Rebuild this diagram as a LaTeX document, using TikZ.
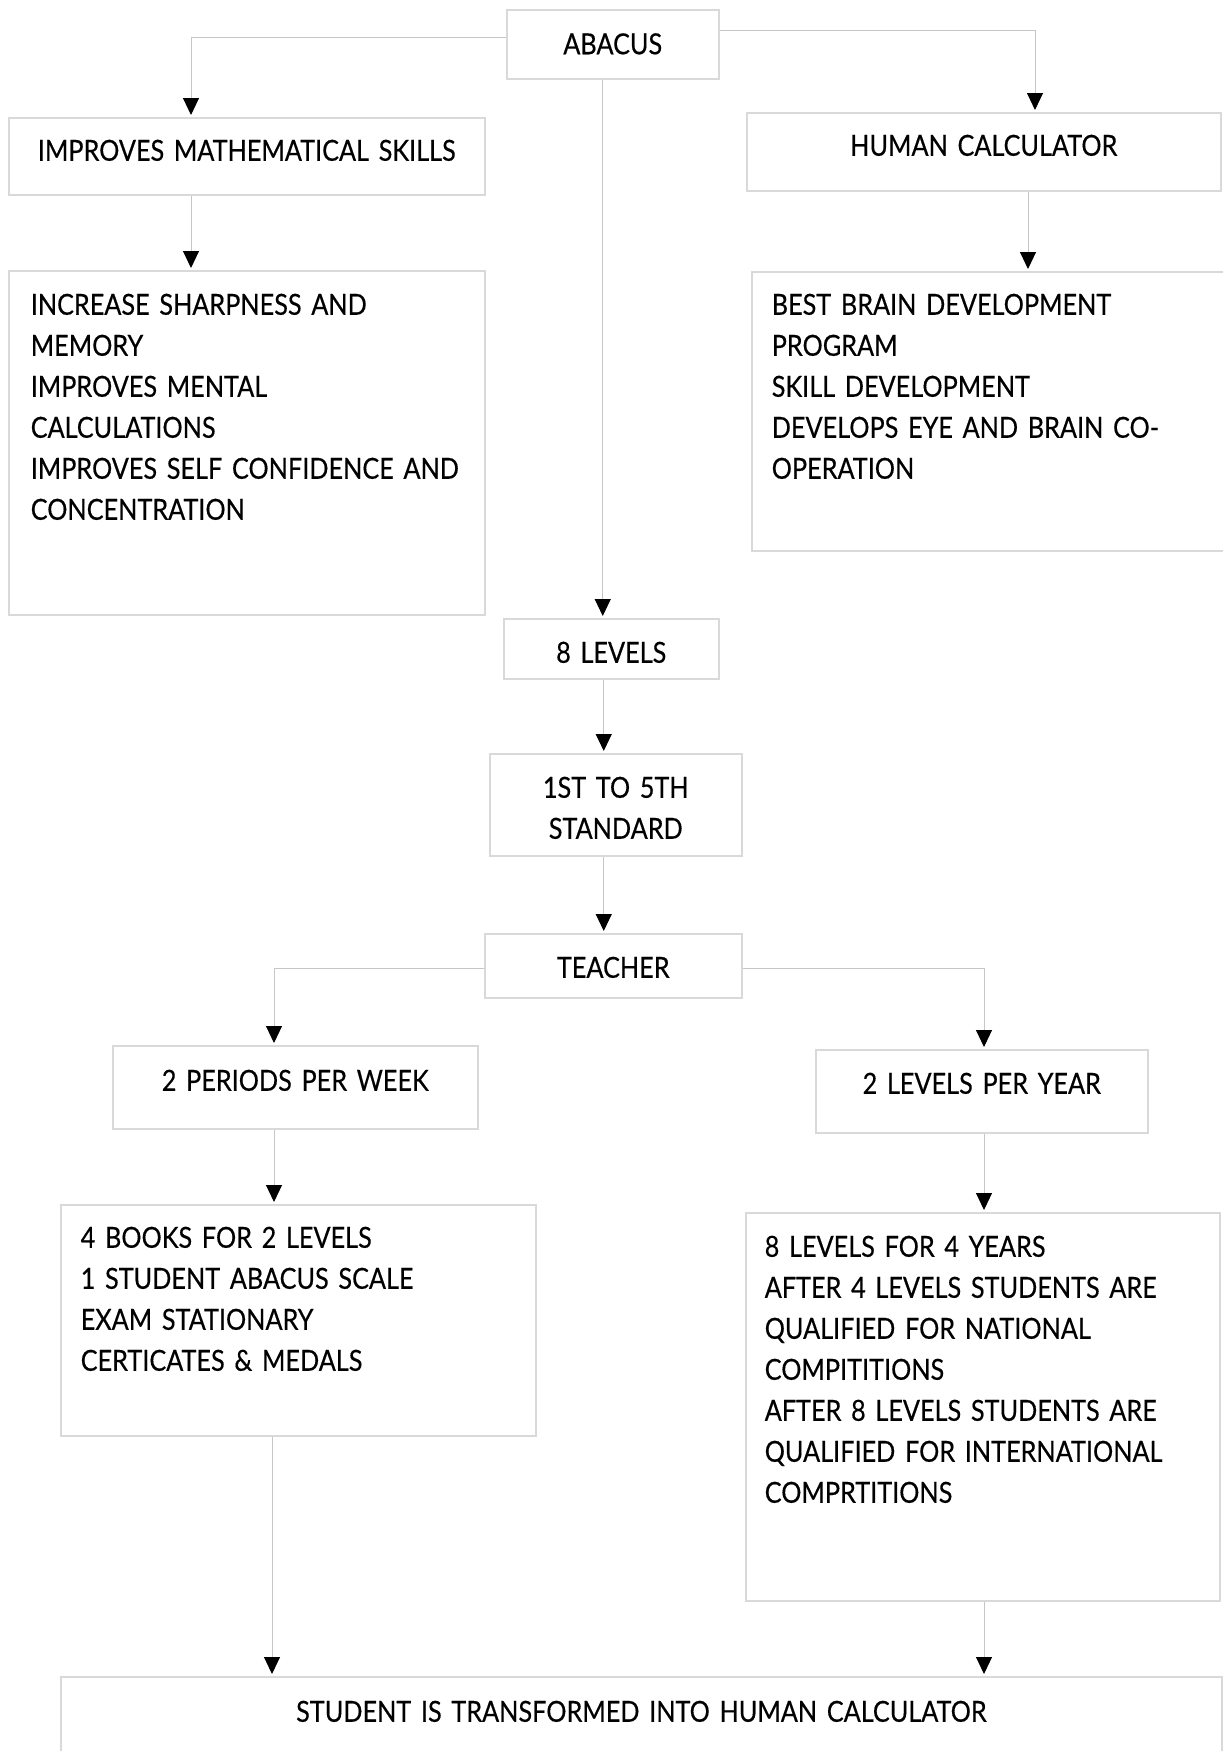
\documentclass[tikz,border=0pt]{standalone}
\usepackage{fontspec}
\setmainfont[FakeStretch=0.87, WordSpace=0.6, FakeBold=0.4]{Lato}
\usetikzlibrary{arrows.meta}
\hyphenpenalty=10000

\tikzset{
  box/.style={rectangle, draw=gray!30, line width=1.5pt, anchor=north west, inner ysep=0pt, font=\fontsize{29}{41}\selectfont},
  midbox/.style={box, inner xsep=0pt, align=center},
  listbox/.style={box, inner xsep=20pt, align=left},
  link/.style={draw=gray!45, line width=1pt, -{Triangle[length=17pt,width=16pt,color=black]}, shorten >=2pt}
}

\begin{document}
\begin{tikzpicture}[x=1pt, y=-1pt]
    \clip (0,0) rectangle (1223,1751);

    \node [midbox, text width=212pt, text height=44.5pt, text depth=24.5pt] (abacus) at (506,9) {ABACUS};
    \node [midbox, text width=476pt, text height=43pt, text depth=34pt] (maths) at (8,117) {IMPROVES MATHEMATICAL SKILLS};
    \node [midbox, text width=474pt, text height=43pt, text depth=35pt] (human) at (746,112) {HUMAN CALCULATOR};
    \node [listbox, inner xsep=22pt, text width=432pt, text height=44pt, text depth=300pt] (benefits) at (8,270) {INCREASE SHARPNESS AND\\MEMORY\\IMPROVES MENTAL\\CALCULATIONS\\IMPROVES SELF CONFIDENCE AND\\CONCENTRATION};
    \node [listbox, text width=440pt, text height=43pt, text depth=236pt] (brain) at (751,271) {BEST BRAIN DEVELOPMENT\\PROGRAM\\SKILL DEVELOPMENT\\DEVELOPS EYE AND BRAIN CO-\\OPERATION};
    \node [midbox, text width=215pt, text height=44pt, text depth=16pt] (levels) at (503,618) {8 LEVELS};
    \node [midbox, text width=252pt, text height=44pt, text depth=58pt] (standard) at (489,753) {1ST TO 5TH\\STANDARD};
    \node [midbox, text width=257pt, text height=44pt, text depth=20pt] (teacher) at (484,933) {TEACHER};
    \node [midbox, text width=365pt, text height=45pt, text depth=38pt] (periods) at (112,1045) {2 PERIODS PER WEEK};
    \node [midbox, text width=332pt, text height=44pt, text depth=39pt] (peryear) at (815,1049) {2 LEVELS PER YEAR};
    \node [listbox, text width=435pt, text height=43pt, text depth=188pt] (books) at (60,1204) {4 BOOKS FOR 2 LEVELS\\1 STUDENT ABACUS SCALE\\EXAM STATIONARY\\CERTICATES \& MEDALS};
    \node [listbox, inner xsep=19pt, text width=436pt, text height=44pt, text depth=344pt] (years) at (745,1212) {8 LEVELS FOR 4 YEARS\\AFTER 4 LEVELS STUDENTS ARE\\QUALIFIED FOR NATIONAL\\COMPITITIONS\\AFTER 8 LEVELS STUDENTS ARE\\QUALIFIED FOR INTERNATIONAL\\COMPRTITIONS};
    \node [midbox, text width=1161pt, text height=45pt, text depth=69pt] (result) at (60,1676) {STUDENT IS TRANSFORMED INTO HUMAN CALCULATOR};

    \draw [link] ([yshift=6.5pt]abacus.west) -| ([xshift=183pt]maths.north west);
    \draw [link] ([yshift=13.5pt]abacus.east) -| ([xshift=289pt]human.north west);
    \draw [link] ([xshift=183pt]maths.south west) -- ([xshift=183pt]maths.south west |- benefits.north);
    \draw [link] ([xshift=282pt]human.south west) -- ([xshift=282pt]human.south west |- brain.north);
    \draw [link] ([xshift=-10pt]abacus.south) -- ([xshift=-10pt]abacus.south |- levels.north);
    \draw [link] ([xshift=-7.5pt]levels.south) -- ([xshift=-7.5pt]levels.south |- standard.north);
    \draw [link] ([xshift=-12pt]standard.south) -- ([xshift=-12pt]standard.south |- teacher.north);
    \draw [link] ([yshift=-3pt]teacher.west) -| ([xshift=162pt]periods.north west);
    \draw [link] ([yshift=-3pt]teacher.east) -| ([xshift=169pt]peryear.north west);
    \draw [link] ([xshift=162pt]periods.south west) -- ([xshift=162pt]periods.south west |- books.north);
    \draw [link] ([xshift=169pt]peryear.south west) -- ([xshift=169pt]peryear.south west |- years.north);
    \draw [link] ([xshift=212pt]books.south west) -- ([xshift=212pt]books.south west |- result.north);
    \draw [link] ([xshift=239pt]years.south west) -- ([xshift=239pt]years.south west |- result.north);
\end{tikzpicture}
\end{document}
